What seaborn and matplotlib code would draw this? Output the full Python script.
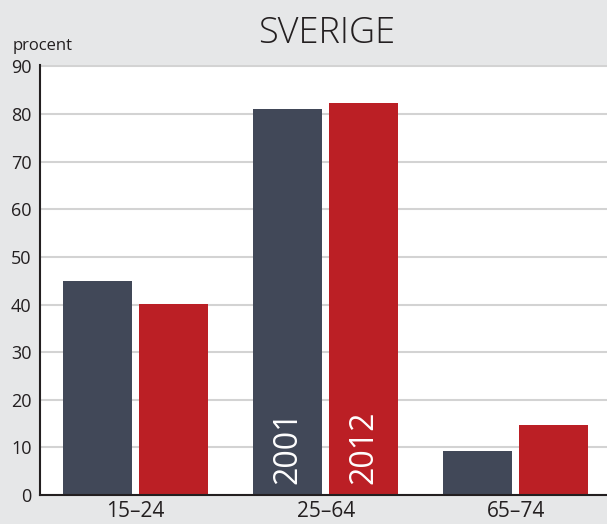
"""Andel i procent per åldersgrupp, Sverige 2001 och 2012."""

import pandas as pd
import matplotlib
matplotlib.use("Agg")
import matplotlib.pyplot as plt
import seaborn as sns

# Data
age_groups = ["15–24", "25–64", "65–74"]
years = ["2001", "2012"]
values_2001 = [45.0, 81.0, 9.3]
values_2012 = [40.1, 82.3, 14.7]
y_ticks = [0, 10, 20, 30, 40, 50, 60, 70, 80, 90]

BG = "#e6e7e8"
DARK = "#414858"
RED = "#bb1f25"
TEXT = "#231f20"

df = pd.DataFrame({
    "age": age_groups * 2,
    "year": [years[0]] * 3 + [years[1]] * 3,
    "value": values_2001 + values_2012,
})

sns.set_theme(style="white")
plt.rcParams["font.family"] = ["Open Sans", "DejaVu Sans"]

fig = plt.figure(figsize=(6.07, 5.24), dpi=100, facecolor=BG)
ax = fig.add_axes([40 / 607, 29 / 524, 567 / 607, 430 / 524])
ax.set_facecolor("white")

sns.barplot(
    data=df, x="age", y="value", hue="year", order=age_groups,
    hue_order=years, palette=[DARK, RED], width=0.8, gap=0.0925,
    saturation=1, legend=False, linewidth=0, ax=ax,
)

ax.set_xlim(-0.503, 2.48)
ax.set_ylim(0, 90.3)
ax.set_yticks(y_ticks)
ax.yaxis.grid(True, color="#d3d3d3", linewidth=1.5)
ax.set_axisbelow(True)
ax.set_xlabel("")
ax.set_ylabel("")
ax.tick_params(axis="both", length=0, colors=TEXT)
ax.tick_params(axis="y", labelsize=13, pad=6)
ax.tick_params(axis="x", labelsize=15, pad=4)

for side in ["top", "right"]:
    ax.spines[side].set_visible(False)
for side in ["left", "bottom"]:
    ax.spines[side].set_color(TEXT)
    ax.spines[side].set_linewidth(1.5)

# Year labels written inside the middle group's bars
mid = age_groups.index("25–64")
for container, label in zip(ax.containers, years):
    bar = container.patches[mid]
    ax.text(bar.get_x() + bar.get_width() / 2, 2.3, label, rotation=90,
            ha="center", va="bottom", color="white", fontsize=23)

fig.text(326.7 / 607, 1 - 43.3 / 524, "SVERIGE", ha="center",
         va="baseline", fontsize=26, fontweight="light", color=TEXT)
fig.text(13 / 607, 1 - 50 / 524, "procent", ha="left", va="baseline",
         fontsize=12, color=TEXT)

fig.savefig("out.png", dpi=100, facecolor=BG)
